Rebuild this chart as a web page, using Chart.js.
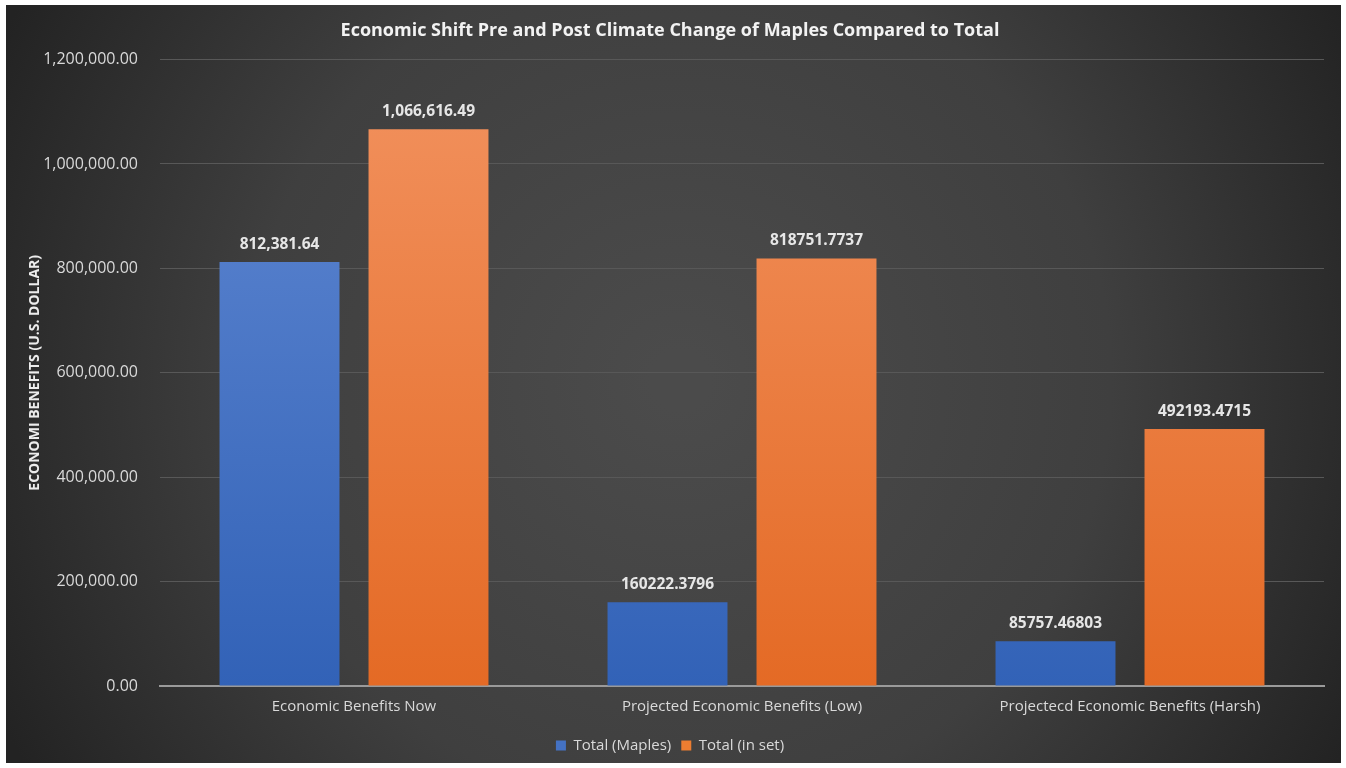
<!DOCTYPE html>
<html lang="en">
<head>
<meta charset="UTF-8">
<title>Economic Shift</title>
<style>
  html, body { margin: 0; padding: 0; background: #fff; }
  canvas { display: block; }
</style>
</head>
<body>
<canvas id="myChart" width="1346" height="768"></canvas>
<script src="https://cdn.jsdelivr.net/npm/chart.js"></script>
<script>
const categories = ['Economic Benefits Now', 'Projected Economic Benefits (Low)', 'Projectecd Economic Benefits (Harsh)'];
const maples = [812381.64, 160222.3796, 85757.46803];
const inSet = [1066616.49, 818751.7737, 492193.4715];
const maplesLabels = ['812,381.64', '160222.3796', '85757.46803'];
const inSetLabels = ['1,066,616.49', '818751.7737', '492193.4715'];

const FONT = '"Open Sans", Lato, sans-serif';

// dark radial backdrop with thin white frame
const backdrop = {
  id: 'backdrop',
  beforeDraw(chart) {
    const c = chart.ctx;
    c.save();
    c.fillStyle = '#ffffff';
    c.fillRect(0, 0, chart.width, chart.height);
    const x0 = 6, y0 = 5, x1 = 1341, y1 = 763;
    const g = c.createRadialGradient(680, 380, 30, 680, 380, 760);
    g.addColorStop(0, '#4b4b4b');
    g.addColorStop(0.55, '#3f3f3f');
    g.addColorStop(1, '#232323');
    c.fillStyle = g;
    c.fillRect(x0, y0, x1 - x0, y1 - y0);
    c.restore();
  }
};

// value labels above bars
const barLabels = {
  id: 'barLabels',
  afterDatasetsDraw(chart) {
    const c = chart.ctx;
    c.save();
    c.font = 'bold 15.5px ' + FONT;
    c.fillStyle = '#e6e6e6';
    c.textAlign = 'center';
    c.textBaseline = 'bottom';
    chart.data.datasets.forEach((ds, i) => {
      chart.getDatasetMeta(i).data.forEach((bar, j) => {
        c.fillText(ds.valueLabels[j], bar.x, bar.y - 10);
      });
    });
    c.restore();
  }
};

function barGradient(top, bottom) {
  return (context) => {
    const area = context.chart.chartArea;
    if (!area) return bottom;
    const g = context.chart.ctx.createLinearGradient(0, area.top, 0, area.bottom);
    g.addColorStop(0, top);
    g.addColorStop(1, bottom);
    return g;
  };
}

const ctx = document.getElementById('myChart');
new Chart(ctx, {
  type: 'bar',
  data: {
    labels: categories,
    datasets: [{
      label: 'Total (Maples)',
      data: maples,
      valueLabels: maplesLabels,
      backgroundColor: barGradient('#6189d3', '#3262b7'),
      borderWidth: 0
    }, {
      label: 'Total (in set)',
      data: inSet,
      valueLabels: inSetLabels,
      backgroundColor: barGradient('#f2925f', '#e46a25'),
      borderWidth: 0
    }]
  },
  options: {
    responsive: false,
    animation: false,
    devicePixelRatio: 1,
    categoryPercentage: 0.768,
    barPercentage: 0.805,
    layout: { padding: { left: 16, right: 22, top: 12, bottom: 5 } },
    plugins: {
      title: {
        display: true,
        text: 'Economic Shift Pre and Post Climate Change of Maples Compared to Total',
        color: '#f2f2f2',
        font: { family: FONT, size: 18, weight: 'bold' },
        padding: { top: 8, bottom: 18 }
      },
      legend: {
        position: 'bottom',
        labels: {
          color: '#d9d9d9',
          font: { family: FONT, size: 15 },
          boxWidth: 10,
          boxHeight: 10,
          padding: 10,
          generateLabels(chart) {
            return chart.data.datasets.map((ds, i) => ({
              text: ds.label,
              fillStyle: i === 0 ? '#4472c4' : '#ed7d31',
              strokeStyle: 'transparent',
              lineWidth: 0,
              fontColor: '#d9d9d9',
              datasetIndex: i
            }));
          }
        }
      },
      tooltip: { enabled: false }
    },
    scales: {
      x: {
        grid: { display: false, drawTicks: false },
        border: { display: true, color: '#9a9a9a', width: 2 },
        ticks: { color: '#d9d9d9', font: { family: FONT, size: 15 }, padding: 12 }
      },
      y: {
        min: 0,
        max: 1200000,
        afterFit(scale) { scale.width = 144; },
        ticks: {
          stepSize: 200000,
          color: '#d9d9d9',
          font: { family: FONT, size: 16 },
          padding: 22,
          callback: v => v.toLocaleString('en-US', { minimumFractionDigits: 2, maximumFractionDigits: 2 })
        },
        grid: { color: '#585858', lineWidth: 1, drawTicks: false },
        border: { display: false },
        title: {
          display: true,
          text: 'ECONOMI BENEFITS (U.S. DOLLAR)',
          color: '#ececec',
          font: { family: FONT, size: 14, weight: 'bold' },
          padding: { top: 11, bottom: 0 }
        }
      }
    }
  },
  plugins: [backdrop, barLabels]
});
</script>
</body>
</html>
